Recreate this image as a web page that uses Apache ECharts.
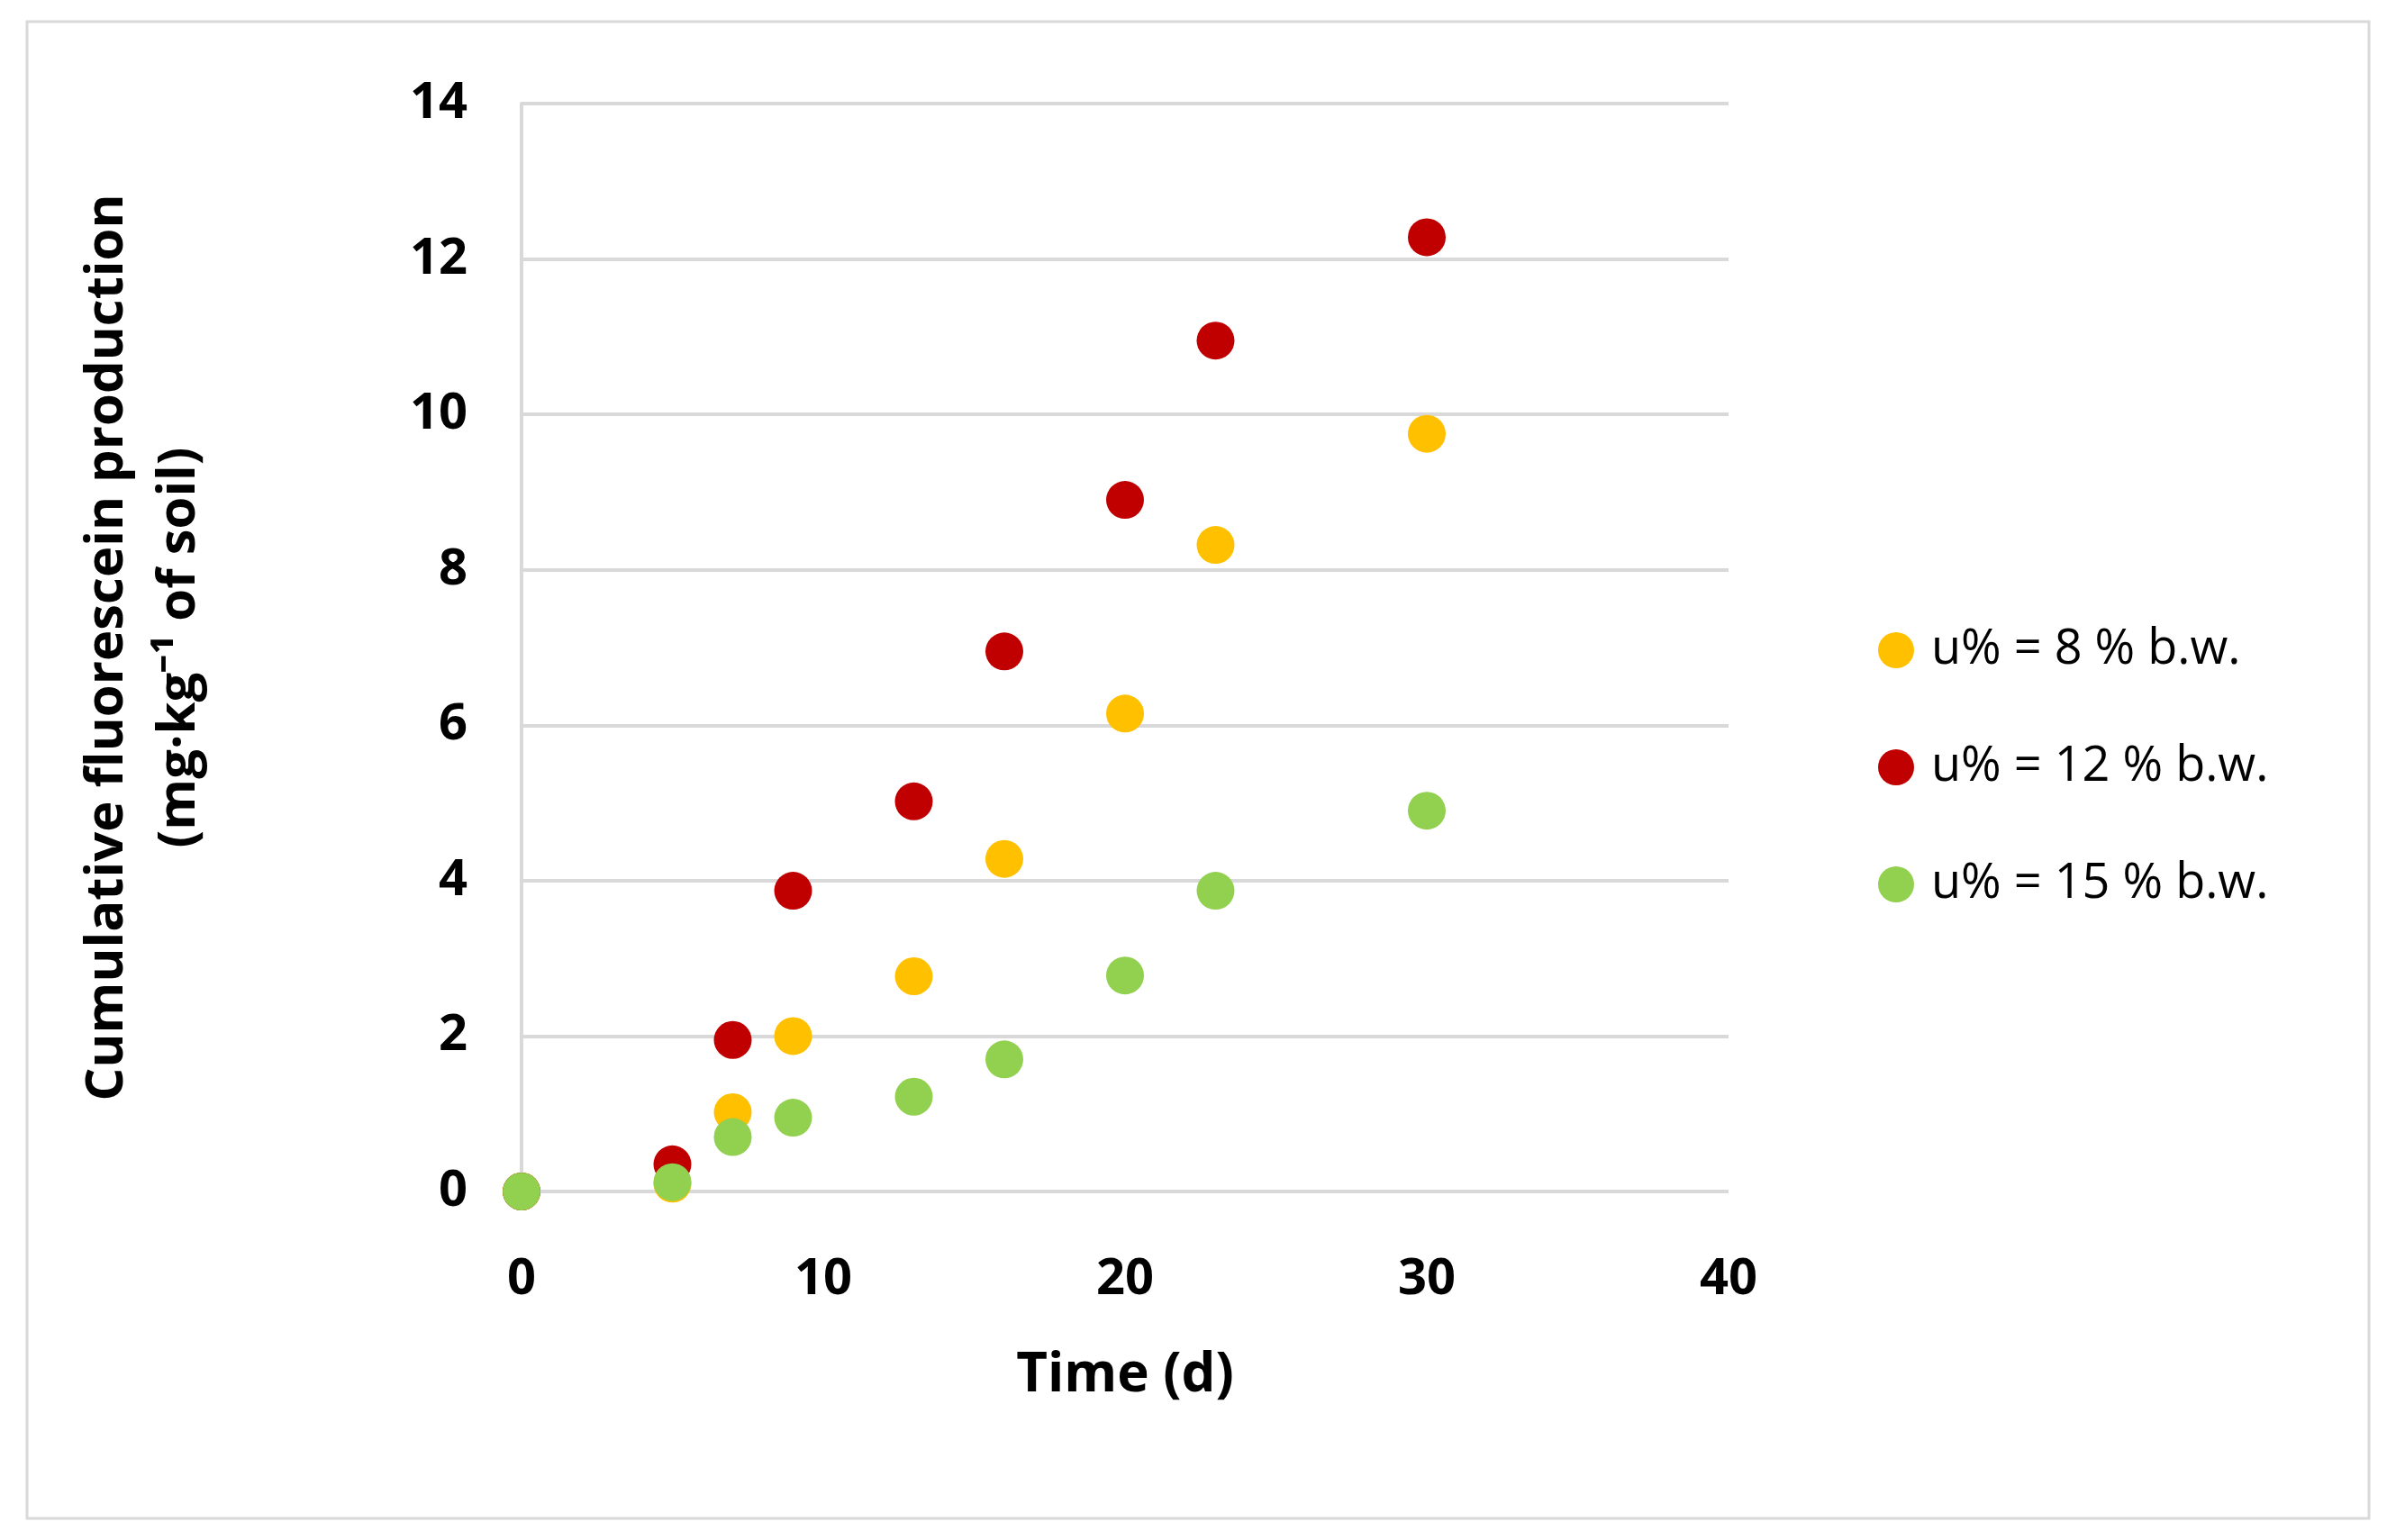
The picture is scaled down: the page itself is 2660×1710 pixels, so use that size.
<!DOCTYPE html>
<html>
<head>
<meta charset="utf-8">
<title>chart</title>
<script src="https://cdn.jsdelivr.net/npm/echarts@6/dist/echarts.min.js"></script>
<style>
  html, body { margin: 0; padding: 0; background: #fff; }
  #main { width: 2660px; height: 1710px; }
</style>
</head>
<body>
<div id="main"></div>
<script>
var days = [0, 5, 7, 9, 13, 16, 20, 23, 30];
var u8 = [0, 0.1, 1.02, 2.0, 2.77, 4.28, 6.15, 8.32, 9.75];
var u12 = [0, 0.35, 1.95, 3.87, 5.02, 6.95, 8.9, 10.95, 12.28];
var u15 = [0, 0.12, 0.7, 0.95, 1.22, 1.7, 2.78, 3.87, 4.9];
var names = ['u% = 8 % b.w.', 'u% = 12 % b.w.', 'u% = 15 % b.w.'];
var colors = ['#FFC000', '#C00000', '#92D050'];

function pairs(v) {
  return days.map(function (d, i) { return [d, v[i]]; });
}

var chart = echarts.init(document.getElementById('main'));
var font = 'Open Sans';
chart.setOption({
  animation: false,
  graphic: [{
    type: 'rect', shape: { x: 30, y: 24, width: 2600, height: 1662 },
    style: { fill: 'none', stroke: '#d9d9d9', lineWidth: 3 }
  }],
  grid: { left: 579, right: 741, top: 115, bottom: 387 },
  legend: {
    orient: 'vertical', left: 2080, top: 690, itemGap: 76,
    itemWidth: 40, itemHeight: 40,
    textStyle: { fontFamily: font, fontSize: 54, color: '#000', padding: [0, 0, 0, 14] },
    data: names
  },
  xAxis: {
    type: 'value', min: 0, max: 40, interval: 10,
    name: 'Time (d)', nameLocation: 'middle', nameGap: 175,
    nameTextStyle: { fontFamily: font, fontSize: 60, fontWeight: 'bold', color: '#000' },
    axisLine: { show: false }, axisTick: { show: false },
    splitLine: { show: false },
    axisLabel: { fontFamily: font, fontSize: 56, fontWeight: 'bold', color: '#000', margin: 70 }
  },
  yAxis: {
    type: 'value', min: 0, max: 14, interval: 2,
    name: 'Cumulative fluorescein production\n(mg·kg⁻¹ of soil)',
    nameLocation: 'middle', nameGap: 340,
    nameTextStyle: { fontFamily: font, fontSize: 58, fontWeight: 'bold', color: '#000', lineHeight: 80 },
    axisLine: { show: true, lineStyle: { color: '#d9d9d9', width: 4 } },
    axisTick: { show: false },
    splitLine: { lineStyle: { color: '#d9d9d9', width: 4 } },
    axisLabel: { fontFamily: font, fontSize: 56, fontWeight: 'bold', color: '#000', margin: 60 }
  },
  series: [u8, u12, u15].map(function (v, i) {
    return {
      name: names[i], type: 'scatter', data: pairs(v), symbolSize: 42,
      itemStyle: { color: colors[i], opacity: 1 }
    };
  })
});
</script>
</body>
</html>
